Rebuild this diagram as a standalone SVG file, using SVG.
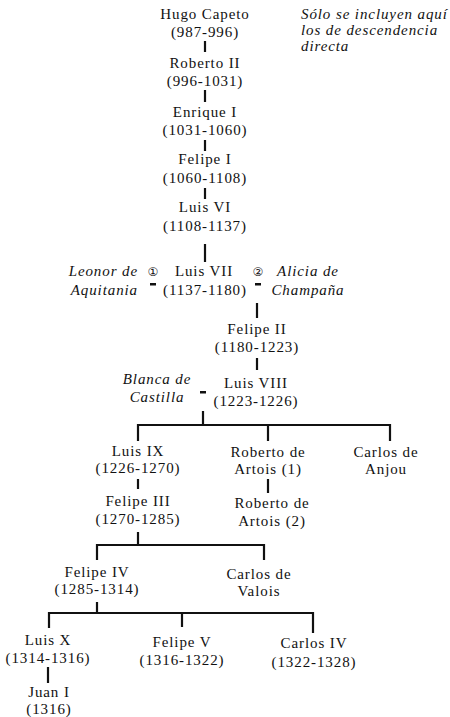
<svg xmlns="http://www.w3.org/2000/svg" width="450" height="717" viewBox="0 0 450 717">
<style>
text{font-family:"Liberation Serif","Times New Roman",serif;font-size:15px;fill:#111;letter-spacing:0.9px}
.n text{text-anchor:middle}
.it{font-style:italic}
.sym{font-family:"DejaVu Sans","Noto Sans CJK JP",sans-serif;font-size:12px;letter-spacing:0;text-anchor:middle}
#connectors line{stroke:#111;stroke-width:2.2;stroke-linecap:butt}
.eq{fill:#111}
</style>
<rect width="450" height="717" fill="#fff"/>
<g id="note"><text class="it" x="301" y="19">Sólo se incluyen aquí</text><text class="it" x="301" y="35">los de descendencia</text><text class="it" x="301" y="51">directa</text></g>
<g class="n" id="hugo"><text x="205" y="19">Hugo Capeto</text><text x="205" y="37">(987-996)</text></g>
<g class="n" id="roberto2"><text x="205" y="68">Roberto II</text><text x="205" y="86">(996-1031)</text></g>
<g class="n" id="enrique1"><text x="205" y="117">Enrique I</text><text x="205" y="135">(1031-1060)</text></g>
<g class="n" id="felipe1"><text x="205" y="164">Felipe I</text><text x="205" y="183">(1060-1108)</text></g>
<g class="n" id="luis6"><text x="205" y="212">Luis VI</text><text x="205" y="231">(1108-1137)</text></g>
<g class="n" id="luis7"><text x="204" y="276">Luis VII</text><text x="205" y="295">(1137-1180)</text></g>
<g id="leonor"><text class="it" x="138" y="276" text-anchor="end">Leonor de</text><text class="it" x="138" y="295" text-anchor="end">Aquitania</text></g>
<g id="alicia"><text class="it" x="308" y="276" text-anchor="middle">Alicia de</text><text class="it" x="308" y="295" text-anchor="middle">Champaña</text></g>
<g class="n" id="felipe2"><text x="257" y="334">Felipe II</text><text x="257" y="352">(1180-1223)</text></g>
<g id="blanca"><text class="it" x="157" y="384" text-anchor="middle">Blanca de</text><text class="it" x="157" y="402" text-anchor="middle">Castilla</text></g>
<g class="n" id="luis8"><text x="256" y="388">Luis VIII</text><text x="256" y="406">(1223-1226)</text></g>
<g class="n" id="luis9"><text x="138" y="456">Luis IX</text><text x="138" y="473">(1226-1270)</text></g>
<g class="n" id="robertoartois1"><text x="268" y="457">Roberto de</text><text x="268" y="474">Artois (1)</text></g>
<g class="n" id="carlosanjou"><text x="386" y="457">Carlos de</text><text x="386" y="474">Anjou</text></g>
<g class="n" id="felipe3"><text x="138" y="506">Felipe III</text><text x="138" y="524">(1270-1285)</text></g>
<g class="n" id="robertoartois2"><text x="272" y="508">Roberto de</text><text x="272" y="526">Artois (2)</text></g>
<g class="n" id="felipe4"><text x="97" y="577">Felipe IV</text><text x="97" y="594">(1285-1314)</text></g>
<g class="n" id="carlosvalois"><text x="259" y="579">Carlos de</text><text x="259" y="596">Valois</text></g>
<g class="n" id="luis10"><text x="48" y="645">Luis X</text><text x="48" y="663">(1314-1316)</text></g>
<g class="n" id="felipe5"><text x="182" y="647">Felipe V</text><text x="182" y="665">(1316-1322)</text></g>
<g class="n" id="carlos4"><text x="314" y="648">Carlos IV</text><text x="314" y="667">(1322-1328)</text></g>
<g class="n" id="juan1"><text x="49" y="697">Juan I</text><text x="49" y="714">(1316)</text></g>
<g id="marriages">
<text class="sym" x="153" y="276">①</text><text class="sym" x="258" y="276">②</text>
<rect class="eq" x="150" y="283" width="6" height="2.5"/>
<rect class="eq" x="255" y="283" width="6" height="2.5"/>
<rect class="eq" x="200" y="391" width="6" height="2.5"/>
</g>
<g id="connectors">
<line x1="205" y1="41" x2="205" y2="52"/>
<line x1="205" y1="90" x2="205" y2="102"/>
<line x1="205" y1="140" x2="205" y2="151"/>
<line x1="205" y1="188" x2="205" y2="199"/>
<line x1="205" y1="244" x2="205" y2="262"/>
<line x1="257" y1="303" x2="257" y2="318"/>
<line x1="257" y1="358" x2="257" y2="370"/>
<line x1="203" y1="411" x2="203" y2="425"/>
<line x1="137" y1="425" x2="391" y2="425"/>
<line x1="138" y1="424" x2="138" y2="441"/>
<line x1="268" y1="424" x2="268" y2="441"/>
<line x1="390" y1="424" x2="390" y2="441"/>
<line x1="138" y1="479" x2="138" y2="489"/>
<line x1="268" y1="479" x2="268" y2="493"/>
<line x1="138" y1="532" x2="138" y2="545"/>
<line x1="96" y1="545" x2="265" y2="545"/>
<line x1="97" y1="544" x2="97" y2="560"/>
<line x1="264" y1="544" x2="264" y2="560"/>
<line x1="97" y1="602" x2="97" y2="613"/>
<line x1="48" y1="613" x2="314" y2="613"/>
<line x1="49" y1="612" x2="49" y2="628"/>
<line x1="182" y1="612" x2="182" y2="627"/>
<line x1="313" y1="612" x2="313" y2="633"/>
<line x1="48" y1="667" x2="48" y2="683"/>
</g>
</svg>
